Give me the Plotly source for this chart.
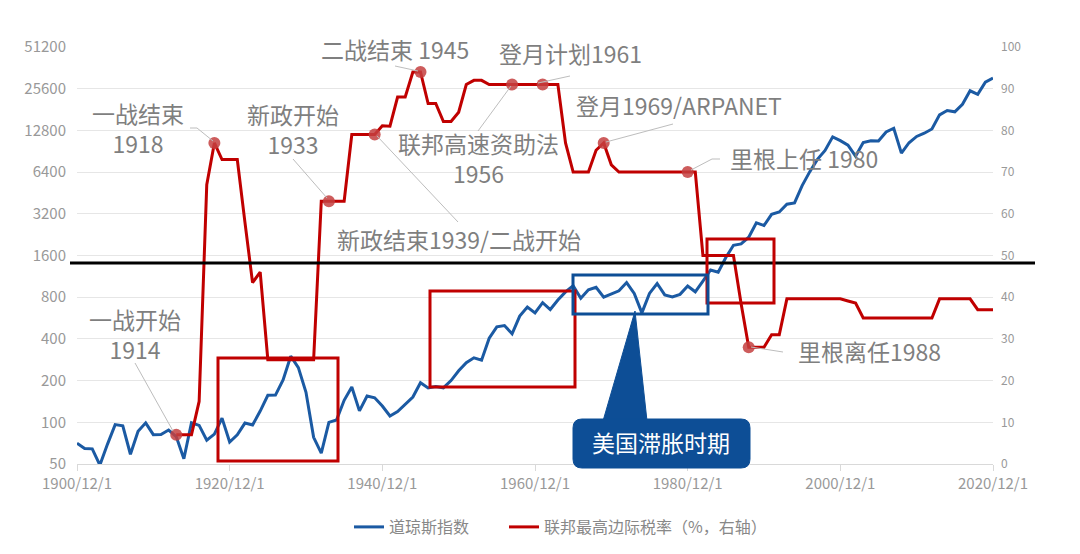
import math
import plotly.graph_objects as go

# ---------------- data ----------------
dow_years = list(range(1900, 2021))
dow_values = [70.7, 64.6, 64.3, 49.1, 69.6, 96.2, 94.4, 58.8, 86.2, 99.1,
              81.4, 81.7, 87.9, 78.8, 54.6, 99.2, 95.0, 74.4, 82.2, 107.2,
              72.0, 81.1, 98.7, 95.5, 120.5, 156.7, 157.2, 202.4, 300.0, 248.5,
              164.6, 77.9, 59.9, 99.9, 104.0, 144.1, 179.9, 120.9, 154.8, 150.2,
              131.1, 111.0, 119.4, 135.9, 152.3, 192.9, 177.2, 181.2, 177.3, 200.1,
              235.4, 269.2, 291.9, 280.9, 404.4, 488.4, 499.5, 435.7, 583.7, 679.4,
              615.9, 731.1, 652.1, 763.0, 874.1, 969.3, 785.7, 905.1, 943.8, 800.4,
              838.9, 890.2, 1020.0, 850.9, 616.2, 852.4, 1004.7, 831.2, 805.0, 838.7,
              964.0, 875.0, 1046.5, 1258.6, 1211.6, 1546.7, 1896.0, 1938.8, 2168.6, 2753.2,
              2633.7, 3168.8, 3301.1, 3754.1, 3834.4, 5117.1, 6448.3, 7908.3, 9181.4, 11497.1,
              10786.9, 10021.5, 8341.6, 10453.9, 10783.0, 10717.5, 12463.2, 13264.8, 8776.4, 10428.1,
              11577.5, 12217.6, 13104.1, 16576.7, 17823.1, 17425.0, 19762.6, 24719.2, 23327.5, 28538.4,
              30606.5]

tax_years = list(range(1913, 2021))
tax_rates = [7, 7, 7, 15, 67, 77, 73, 73, 73, 58, 43.5, 46,
             25, 25, 25, 25, 25, 25, 25,
             63, 63, 63, 63,
             79, 79, 79, 79,
             81.1, 81, 88, 88, 94, 94, 86.45, 86.45, 82.13, 82.13, 84.36, 91, 92, 92,
             91, 91, 91, 91, 91, 91, 91, 91, 91, 91,
             77, 70, 70, 70, 75.25, 77, 71.75,
             70, 70, 70, 70, 70, 70, 70, 70, 70, 70, 70,
             50, 50, 50, 50, 50, 38.5, 28, 28, 28, 31, 31,
             39.6, 39.6, 39.6, 39.6, 39.6, 39.6, 39.6, 39.6, 39.1, 38.6,
             35, 35, 35, 35, 35, 35, 35, 35, 35, 35,
             39.6, 39.6, 39.6, 39.6, 39.6, 37, 37, 37]

marked_years = [1913, 1918, 1933, 1939, 1945, 1957, 1961, 1969, 1980, 1988]

left_ticks = [50, 100, 200, 400, 800, 1600, 3200, 6400, 12800, 25600, 51200]
x_tick_years = [1900, 1920, 1940, 1960, 1980, 2000, 2020]
x_tick_labels = [f"{y}/12/1" for y in x_tick_years]

series_names = ["道琼斯指数", "联邦最高边际税率（%，右轴）"]


def d(y):
    return f"{y}-12-01"


marked_rates = [tax_rates[tax_years.index(y)] for y in marked_years]

# ---------------- geometry helpers (pixel -> paper) ----------------
W, H = 1080, 554
L, R, T, B = 77, 993, 46, 463      # plot area in screen pixels
OFFX, OFFY = 8, 7                  # page body margin offset


def px(x):
    return (x - L) / (R - L)


def py(y):
    return (B - y) / (B - T)


FONT = "Noto Sans CJK SC"
GRAY_TXT = "#7f7f7f"
RED = "#C00000"
BLUE = "#1B5AA3"
NAVY = "#0D4E96"

fig = go.Figure()
fig.add_trace(go.Scatter(x=[d(y) for y in dow_years], y=dow_values, mode="lines",
                         line=dict(color=BLUE, width=3), name=series_names[0], yaxis="y",
                         legend="legend"))
fig.add_trace(go.Scatter(x=[d(y) for y in tax_years], y=tax_rates, mode="lines",
                         line=dict(color=RED, width=3), name=series_names[1], yaxis="y2",
                         legend="legend2"))
fig.add_trace(go.Scatter(x=[d(y) for y in marked_years], y=marked_rates, mode="markers",
                         marker=dict(color="rgba(196,64,64,0.85)", size=12), showlegend=False,
                         yaxis="y2", hoverinfo="skip"))

shapes = []


def seg(x0, y0, x1, y1, color="#bdbdbd", width=1):
    shapes.append(dict(type="line", xref="paper", yref="paper",
                       x0=px(x0), y0=py(y0), x1=px(x1), y1=py(y1),
                       line=dict(color=color, width=width), layer="above"))


def rect(x0, y0, x1, y1, color, width=3):
    shapes.append(dict(type="rect", xref="paper", yref="paper",
                       x0=px(x0), y0=py(y1), x1=px(x1), y1=py(y0),
                       line=dict(color=color, width=width), fillcolor="rgba(0,0,0,0)",
                       layer="above"))


# leader lines
seg(190, 127, 197, 127)
seg(197, 127, 213, 140)
seg(293, 158, 327, 197)
seg(395, 65, 418, 70)
seg(570, 75, 538, 82)
seg(673, 123, 606, 141)
seg(478, 130, 511, 85)
seg(458, 221, 377, 135)
seg(720, 158, 712, 158)
seg(712, 158, 691, 169)
seg(751, 346, 783, 351)
seg(135, 362, 173, 430)

# black horizontal line
seg(70, 262, 1035, 262, color="black", width=3)

# boxes
rect(218, 357, 338, 460, RED)
rect(430, 290, 575, 386, RED)
rect(707, 238, 774, 302, RED)
rect(573, 274, 708, 313, NAVY)

# callout: triangle + rounded rectangle
shapes.append(dict(type="path", xref="paper", yref="paper", layer="above",
                   path=f"M {px(603)},{py(420)} L {px(635)},{py(310)} L {px(647)},{py(420)} Z",
                   fillcolor=NAVY, line=dict(color=NAVY, width=1)))
x0, y0, x1, y1, r = 573, 418, 750, 467, 9
rx, ry = r / (R - L), r / (B - T)
X0, X1, Ytop, Ybot = px(x0), px(x1), py(y0), py(y1)
path = (f"M {X0 + rx},{Ytop} L {X1 - rx},{Ytop} Q {X1},{Ytop} {X1},{Ytop - ry} "
        f"L {X1},{Ybot + ry} Q {X1},{Ybot} {X1 - rx},{Ybot} "
        f"L {X0 + rx},{Ybot} Q {X0},{Ybot} {X0},{Ybot + ry} "
        f"L {X0},{Ytop - ry} Q {X0},{Ytop} {X0 + rx},{Ytop} Z")
shapes.append(dict(type="path", xref="paper", yref="paper", layer="above", path=path,
                   fillcolor=NAVY, line=dict(color=NAVY, width=1)))

annotations = []


def text(s, x, y, size=23, color=GRAY_TXT):
    annotations.append(dict(text=s, x=px(x), y=py(y), xref="paper", yref="paper",
                            xanchor="center", yanchor="middle", showarrow=False,
                            font=dict(family=FONT, size=size, color=color)))


text("一战结束<br>1918", 138, 127)
text("新政开始<br>1933", 293, 128)
text("二战结束 1945", 395, 48)
text("登月计划1961", 570, 52)
text("登月1969/ARPANET", 679, 104)
text("联邦高速资助法<br>1956", 478, 157)
text("新政结束1939/二战开始", 459, 238)
text("里根上任 1980", 804, 157)
text("里根离任1988", 869, 350)
text("一战开始<br>1914", 135, 333)
text("美国滞胀时期", 661, 441, color="white")

legend_common = dict(orientation="h", yanchor="middle", xanchor="left",
                     font=dict(size=16, color="#888888"), itemwidth=30,
                     bgcolor="rgba(0,0,0,0)")

fig.update_layout(
    width=W, height=H,
    margin=dict(l=L - OFFX, r=W - R + OFFX, t=T - OFFY, b=H - B + OFFY),
    paper_bgcolor="white", plot_bgcolor="white",
    font=dict(family=FONT, color="#999999"),
    shapes=shapes, annotations=annotations,
    xaxis=dict(type="date", range=[d(1900), d(2020)],
               tickvals=[d(y) for y in x_tick_years], ticktext=x_tick_labels,
               showgrid=False, showline=True, linecolor="#d9d9d9", linewidth=1,
               ticks="outside", ticklen=6, tickcolor="#d9d9d9",
               tickfont=dict(size=15, color="#999999"), zeroline=False),
    yaxis=dict(type="log", range=[math.log10(50), math.log10(51200)],
               tickvals=left_ticks, ticktext=[str(v) for v in left_ticks],
               showgrid=True, gridcolor="#e6e6e6", gridwidth=1, zeroline=False,
               tickfont=dict(size=15, color="#999999"), ticklabelstandoff=10),
    yaxis2=dict(overlaying="y", side="right", range=[0, 100], dtick=10,
                showgrid=False, zeroline=False,
                tickfont=dict(size=12, color="#999999"), ticklabelstandoff=7),
    legend=dict(x=px(349), y=py(526), **legend_common),
    legend2=dict(x=px(504), y=py(526), **legend_common),
    showlegend=True,
)

fig.write_html("out.html")
